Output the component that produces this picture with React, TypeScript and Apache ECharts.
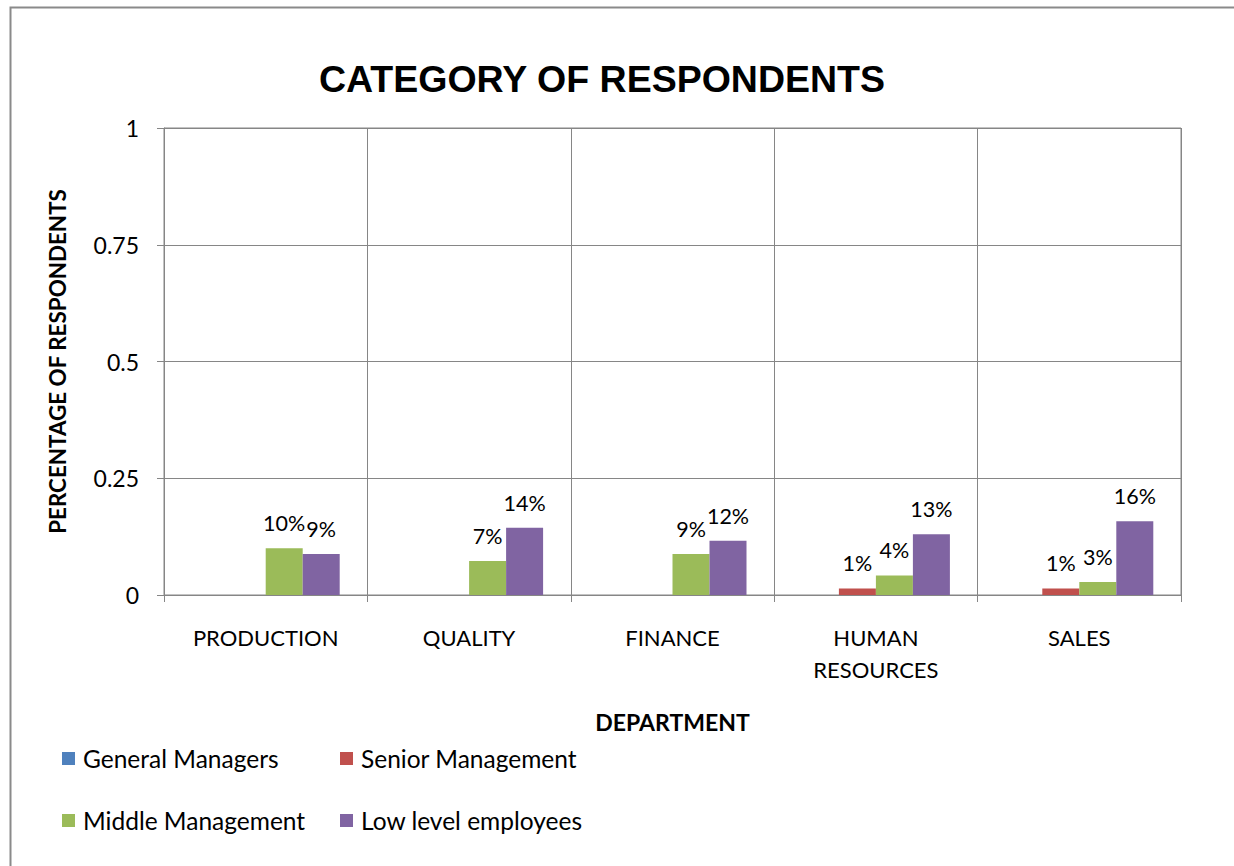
import React, { useEffect, useRef } from "react";
import * as echarts from "echarts";

const categories = ["PRODUCTION", "QUALITY", "FINANCE", "HUMAN\nRESOURCES", "SALES"];
const generalManagers = [0, 0, 0, 0, 0];
const seniorManagement = [0, 0, 0, 0.014, 0.014];
const middleManagement = [0.1, 0.073, 0.088, 0.042, 0.028];
const lowLevelEmployees = [0.088, 0.144, 0.116, 0.13, 0.158];
const seriesNames = ["General Managers", "Senior Management", "Middle Management", "Low level employees"];
const colors = ["#4F81BD", "#C0504D", "#9BBB59", "#8064A2"];
const yTicks = { min: 0, max: 1, interval: 0.25 };

const FONT = "Lato";
const GRAY = "#868686";

export default function App() {
  const ref = useRef<HTMLDivElement>(null);
  useEffect(() => {
    if (!ref.current) return;
    const chart = echarts.init(ref.current, null, { renderer: "svg" });
    const data = [generalManagers, seniorManagement, middleManagement, lowLevelEmployees];
    const legendPos = [
      { left: 62, top: 746 },
      { left: 340, top: 746 },
      { left: 62, top: 808 },
      { left: 340, top: 808 },
    ];
    chart.setOption({
      animation: false,
      backgroundColor: "#fff",
      title: {
        text: "CATEGORY OF RESPONDENTS",
        left: 597,
        top: 55,
        textAlign: "center",
        textStyle: { fontFamily: "Liberation Sans", fontWeight: "bold", fontSize: 37.5, color: "#000" },
      },
      graphic: [
        {
          type: "rect",
          shape: { x: 10.5, y: 7.5, width: 1240, height: 900 },
          style: { fill: "none", stroke: "#8a8a8a", lineWidth: 2 },
          silent: true,
        },
      ],
      legend: seriesNames.map((n, i) => ({
        data: [n],
        left: legendPos[i].left,
        top: legendPos[i].top,
        padding: 0,
        icon: "rect",
        itemWidth: 13,
        itemHeight: 13,
        textStyle: { fontFamily: FONT, fontSize: 24.5, color: "#000", padding: [0, 0, 0, 3] },
      })),
      grid: {
        left: 164,
        right: 53,
        top: 128,
        bottom: 271,
        show: true,
        borderColor: GRAY,
        borderWidth: 1,
      },
      xAxis: {
        type: "category",
        data: categories,
        name: "DEPARTMENT",
        nameLocation: "middle",
        nameGap: 115,
        nameTextStyle: { fontFamily: FONT, fontWeight: "bold", fontSize: 23, color: "#000" },
        axisLine: { lineStyle: { color: GRAY, width: 1 } },
        axisTick: { show: true, length: 7, lineStyle: { color: GRAY } },
        splitLine: { show: true, lineStyle: { color: GRAY, width: 1 } },
        axisLabel: {
          fontFamily: FONT,
          fontSize: 22,
          color: "#000",
          margin: 26,
          lineHeight: 32,
          interval: 0,
        },
      },
      yAxis: {
        type: "value",
        min: yTicks.min,
        max: yTicks.max,
        interval: yTicks.interval,
        name: "PERCENTAGE OF RESPONDENTS",
        nameLocation: "middle",
        nameGap: 96,
        nameRotate: 90,
        nameTextStyle: { fontFamily: FONT, fontWeight: "bold", fontSize: 22.4, color: "#000" },
        axisLine: { show: true, lineStyle: { color: GRAY, width: 1 } },
        axisTick: { show: true, length: 7, lineStyle: { color: GRAY } },
        splitLine: { show: true, lineStyle: { color: GRAY, width: 1 } },
        axisLabel: { fontFamily: FONT, fontSize: 23, color: "#000", margin: 25 },
      },
      series: seriesNames.map((n, i) => ({
        name: n,
        type: "bar",
        data: data[i],
        barWidth: 37,
        barGap: "0%",
        itemStyle: { color: colors[i] },
        label: {
          show: true,
          position: "top",
          distance: 14,
          fontFamily: FONT,
          fontSize: 21.5,
          color: "#000",
          formatter: (p: any) => (p.value ? Math.round(p.value * 100) + "%" : ""),
        },
      })),
    });
    return () => chart.dispose();
  }, []);
  return (
    <div
      ref={ref}
      style={{ position: "absolute", left: 0, top: 0, width: 1234, height: 866 }}
    />
  );
}
